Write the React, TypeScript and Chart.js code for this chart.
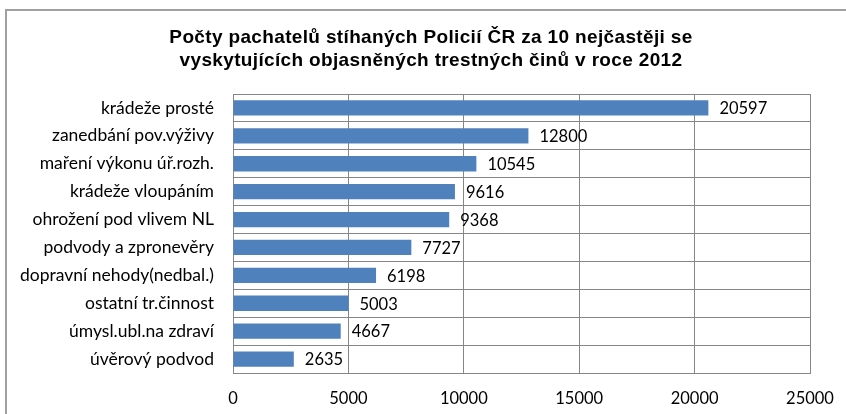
import React, { useEffect, useRef } from "react";
import { Chart, registerables } from "chart.js";

Chart.register(...registerables);

const titleLines = [
  "Počty pachatelů stíhaných Policií ČR za 10 nejčastěji se",
  "vyskytujících objasněných trestných činů v roce 2012",
];

const categories = [
  "krádeže prosté",
  "zanedbání pov.výživy",
  "maření výkonu úř.rozh.",
  "krádeže vloupáním",
  "ohrožení pod vlivem NL",
  "podvody a zpronevěry",
  "dopravní nehody(nedbal.)",
  "ostatní tr.činnost",
  "úmysl.ubl.na zdraví",
  "úvěrový podvod",
];

const values = [20597, 12800, 10545, 9616, 9368, 7727, 6198, 5003, 4667, 2635];

const xMin = 0;
const xMax = 25000;
const xStep = 5000;

const FONT = "Lato, 'Open Sans', sans-serif";

const frame = {
  id: "frame",
  beforeDraw(chart: any) {
    const ctx = chart.ctx;
    ctx.save();
    ctx.fillStyle = "#ffffff";
    ctx.fillRect(0, 0, chart.width, chart.height);
    ctx.strokeStyle = "#a0a0a0";
    ctx.lineWidth = 2;
    ctx.strokeRect(6, 10, chart.width + 10, chart.height + 10);
    ctx.restore();
  },
  afterDraw(chart: any) {
    const ctx = chart.ctx;
    ctx.save();
    ctx.fillStyle = "#000000";
    ctx.font = "bold 19px 'Liberation Sans', Arial, sans-serif";
    try {
      (ctx as any).letterSpacing = "0.35px";
    } catch (e) {}
    ctx.textAlign = "center";
    ctx.textBaseline = "alphabetic";
    titleLines.forEach((line, i) => {
      ctx.fillText(line, 431, 43 + i * 23);
    });
    ctx.restore();
  },
};

const valueLabels = {
  id: "valueLabels",
  afterDatasetsDraw(chart: any) {
    const ctx = chart.ctx;
    const meta = chart.getDatasetMeta(0);
    ctx.save();
    ctx.font = `16.5px ${FONT}`;
    ctx.fillStyle = "#000000";
    ctx.textBaseline = "middle";
    ctx.textAlign = "left";
    meta.data.forEach((bar: any, i: number) => {
      ctx.fillText(String(chart.data.datasets[0].data[i]), bar.x + 11, bar.y + 1);
    });
    ctx.restore();
  },
};

export default function App() {
  const ref = useRef<HTMLCanvasElement>(null);
  useEffect(() => {
    if (!ref.current) return;
    const chart = new Chart(ref.current, {
      type: "bar",
      data: {
        labels: categories,
        datasets: [
          {
            data: values,
            backgroundColor: "#4F81BD",
            borderWidth: 0,
            categoryPercentage: 1,
            barPercentage: 0.55,
          },
        ],
      },
      options: {
        indexAxis: "y",
        responsive: false,
        animation: false,
        layout: { padding: { left: 6, right: 36, top: 94, bottom: 0 } },
        plugins: {
          legend: { display: false },
          tooltip: { enabled: false },
          title: { display: false },
        },
        scales: {
          x: {
            type: "linear",
            min: xMin,
            max: xMax,
            ticks: {
              stepSize: xStep,
              color: "#000000",
              font: { family: FONT, size: 16.5 },
              padding: 16,
              callback: (v: any) => String(v),
            },
            grid: { color: "#868686", lineWidth: 1, drawTicks: false },
            border: { display: true, color: "#868686", width: 1 },
            afterFit(scale: any) {
              scale.height = 414 - 373;
              scale.paddingLeft = 0;
              scale.paddingRight = 0;
            },
          },
          y: {
            ticks: {
              color: "#000000",
              font: { family: FONT, size: 17.5 },
              padding: 19,
            },
            grid: { color: "#868686", lineWidth: 1, drawTicks: false },
            border: { display: true, color: "#868686", width: 1 },
            afterFit(scale: any) {
              scale.width = 227;
              scale.paddingTop = 0;
              scale.paddingBottom = 0;
            },
          },
        },
      },
      plugins: [frame, valueLabels],
    });
    return () => chart.destroy();
  }, []);
  return (
    <div style={{ position: "absolute", left: 0, top: 0, width: 846, height: 414 }}>
      <canvas ref={ref} width={846} height={414} style={{ width: 846, height: 414 }} />
    </div>
  );
}
